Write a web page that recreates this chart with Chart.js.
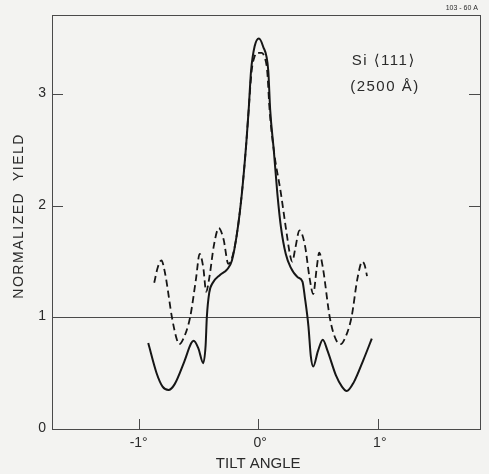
<!DOCTYPE html>
<html lang="en">
<head>
  <meta charset="UTF-8" />
  <title>Si (111) normalized yield vs tilt angle</title>
  <script src="https://cdn.jsdelivr.net/npm/chart.js"></script>
  <style>
    body { margin: 0; padding: 0; background-color: #f3f3f1; }
    .chart-box { width: 489px; height: 474px; position: relative; }
  </style>
</head>
<body>
  <div class="chart-box">
    <canvas id="yieldChart"></canvas>
  </div>
  <script>
    // Solid curve
    const solidAngle = [-0.92, -0.85, -0.80, -0.75, -0.70, -0.62, -0.56, -0.54, -0.50, -0.46, -0.44, -0.43, -0.41, -0.38, -0.32, -0.26, -0.22, -0.178, -0.137, -0.10, -0.08, -0.06, -0.03, 0.005, 0.04, 0.084, 0.10, 0.13, 0.16, 0.19, 0.23, 0.27, 0.33, 0.37, 0.39, 0.42, 0.44, 0.46, 0.50, 0.54, 0.58, 0.65, 0.70, 0.74, 0.80, 0.88, 0.95];
    const solidYield = [0.77, 0.50, 0.38, 0.35, 0.40, 0.60, 0.77, 0.79, 0.72, 0.59, 0.75, 1.00, 1.22, 1.31, 1.38, 1.43, 1.51, 1.75, 2.11, 2.56, 2.86, 3.21, 3.43, 3.50, 3.43, 3.21, 2.86, 2.50, 2.11, 1.81, 1.57, 1.45, 1.36, 1.32, 1.18, 0.92, 0.65, 0.56, 0.70, 0.80, 0.70, 0.48, 0.38, 0.34, 0.42, 0.62, 0.81];

    // Dashed curve
    const dashedAngle = [-0.87, -0.84, -0.81, -0.78, -0.72, -0.68, -0.66, -0.63, -0.57, -0.52, -0.49, -0.46, -0.435, -0.41, -0.37, -0.33, -0.29, -0.25, -0.22, -0.178, -0.137, -0.10, -0.08, -0.055, -0.03, -0.01, 0.03, 0.05, 0.075, 0.095, 0.13, 0.19, 0.23, 0.27, 0.285, 0.31, 0.345, 0.39, 0.43, 0.46, 0.49, 0.51, 0.54, 0.60, 0.65, 0.69, 0.72, 0.78, 0.83, 0.87, 0.89, 0.91];
    const dashedYield = [1.31, 1.45, 1.51, 1.40, 0.99, 0.80, 0.76, 0.80, 1.00, 1.35, 1.57, 1.45, 1.23, 1.35, 1.65, 1.80, 1.70, 1.48, 1.53, 1.75, 2.11, 2.56, 2.86, 3.21, 3.34, 3.37, 3.37, 3.34, 3.21, 2.86, 2.50, 2.11, 1.81, 1.54, 1.50, 1.62, 1.78, 1.65, 1.35, 1.21, 1.45, 1.58, 1.45, 0.99, 0.80, 0.76, 0.80, 1.00, 1.35, 1.50, 1.47, 1.37];

    const xTickValues = [-1, 0, 1];
    const xTickLabels = ['-1°', '0°', '1°'];
    const yTickValues = [0, 1, 2, 3];
    const yTickLabels = ['0', '1', '2', '3'];
    const rightTickValues = [2, 3];

    const ink = '#161616';
    const frame = '#4a4a4a';
    const fontFamily = "'Liberation Sans', 'DejaVu Sans', sans-serif";

    function toPoints(xs, ys) {
      return xs.map((x, i) => ({ x: x, y: ys[i] }));
    }

    // Frame, inward ticks, reference line and all labels, drawn from the scales
    const framePlugin = {
      id: 'framePlugin',
      beforeDatasetsDraw(chart) {
        const ctx = chart.ctx;
        const area = chart.chartArea;
        const xs = chart.scales.x;
        const ys = chart.scales.y;
        ctx.save();
        ctx.strokeStyle = frame;
        ctx.lineWidth = 1;
        ctx.strokeRect(area.left + 0.5, area.top + 0.5, area.right - area.left, area.bottom - area.top);

        // y = 1 reference line
        const y1 = Math.round(ys.getPixelForValue(1)) + 0.5;
        ctx.beginPath();
        ctx.moveTo(area.left, y1);
        ctx.lineTo(area.right, y1);
        ctx.stroke();

        // left ticks
        yTickValues.forEach(v => {
          const py = Math.round(ys.getPixelForValue(v)) + 0.5;
          ctx.beginPath();
          ctx.moveTo(area.left, py);
          ctx.lineTo(area.left + 11, py);
          ctx.stroke();
        });
        // right ticks
        rightTickValues.forEach(v => {
          const py = Math.round(ys.getPixelForValue(v)) + 0.5;
          ctx.beginPath();
          ctx.moveTo(area.right - 11, py);
          ctx.lineTo(area.right, py);
          ctx.stroke();
        });
        // bottom ticks
        xTickValues.forEach(v => {
          const px = Math.round(xs.getPixelForValue(v)) + 0.5;
          ctx.beginPath();
          ctx.moveTo(px, area.bottom);
          ctx.lineTo(px, area.bottom - 10);
          ctx.stroke();
        });

        ctx.fillStyle = '#2a2a2a';
        ctx.font = '14px ' + fontFamily;
        ctx.textAlign = 'right';
        ctx.textBaseline = 'middle';
        yTickValues.forEach((v, i) => {
          ctx.fillText(yTickLabels[i], area.left - 6, ys.getPixelForValue(v) - 1);
        });
        ctx.textAlign = 'center';
        const xOffsets = [0, 2, 2];
        xTickValues.forEach((v, i) => {
          ctx.fillText(xTickLabels[i], xs.getPixelForValue(v) + xOffsets[i], area.bottom + 14);
        });

        ctx.font = '15px ' + fontFamily;
        ctx.fillText('TILT ANGLE', xs.getPixelForValue(0), area.bottom + 35);

        ctx.save();
        ctx.letterSpacing = '1.5px';
        ctx.font = '14px ' + fontFamily;
        ctx.translate(19, ys.getPixelForValue(1.91));
        ctx.rotate(-Math.PI / 2);
        ctx.fillText('NORMALIZED  YIELD', 0, 0);
        ctx.restore();

        ctx.save();
        ctx.letterSpacing = '1.5px';
        ctx.font = '15px ' + fontFamily;
        ctx.fillText('Si \u27E8111\u27E9', xs.getPixelForValue(1.05), ys.getPixelForValue(3.30));
        ctx.fillText('(2500 \u00C5)', xs.getPixelForValue(1.06), ys.getPixelForValue(3.065));
        ctx.restore();

        ctx.font = '7px ' + fontFamily;
        ctx.textAlign = 'right';
        ctx.fillText('103 - 60 A', area.right - 2, 8);
        ctx.restore();
      }
    };

    const ctx = document.getElementById('yieldChart').getContext('2d');
    new Chart(ctx, {
      type: 'line',
      data: {
        datasets: [
          {
            label: 'Solid',
            data: toPoints(solidAngle, solidYield),
            borderColor: ink,
            borderWidth: 2,
            pointRadius: 0,
            fill: false,
            cubicInterpolationMode: 'monotone'
          },
          {
            label: 'Dashed',
            data: toPoints(dashedAngle, dashedYield),
            borderColor: ink,
            borderWidth: 1.8,
            borderDash: [7, 4],
            pointRadius: 0,
            fill: false,
            cubicInterpolationMode: 'monotone'
          }
        ]
      },
      options: {
        responsive: true,
        maintainAspectRatio: false,
        animation: false,
        layout: { padding: { left: 52, right: 9, top: 15, bottom: 45 } },
        scales: {
          x: { type: 'linear', min: -1.725, max: 1.855, display: false },
          y: { type: 'linear', min: 0, max: 3.71, display: false }
        },
        plugins: {
          legend: { display: false },
          tooltip: { enabled: false }
        }
      },
      plugins: [framePlugin]
    });
  </script>
</body>
</html>
